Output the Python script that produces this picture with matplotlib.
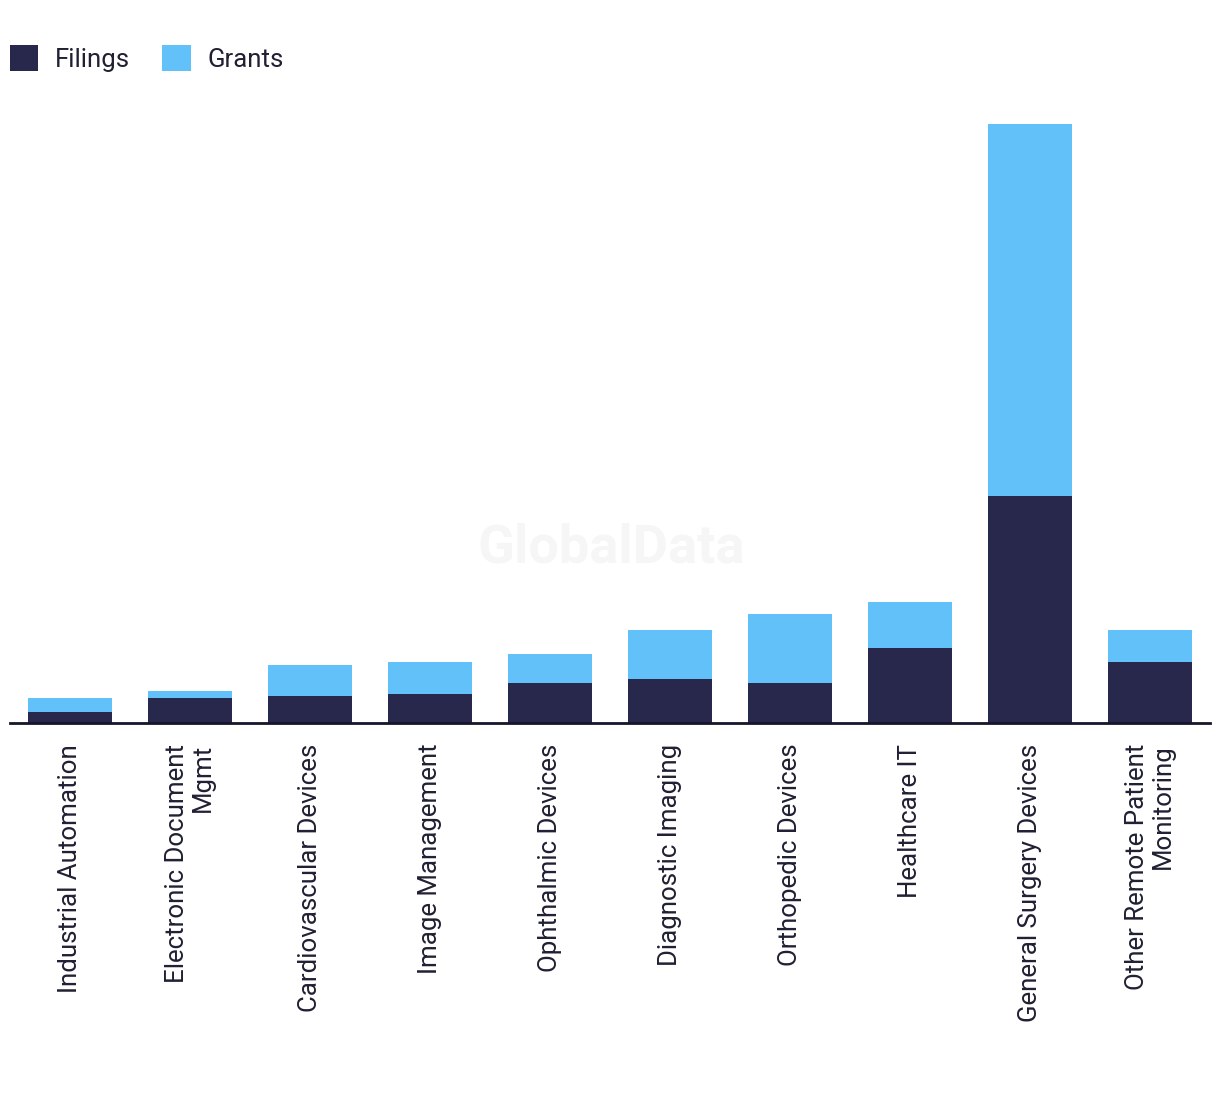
import matplotlib
matplotlib.use("Agg")
import matplotlib.pyplot as plt
from matplotlib.patches import Patch

categories = [
    "Industrial Automation",
    "Electronic Document\nMgmt",
    "Cardiovascular Devices",
    "Image Management",
    "Ophthalmic Devices",
    "Diagnostic Imaging",
    "Orthopedic Devices",
    "Healthcare IT",
    "General Surgery Devices",
    "Other Remote Patient\nMonitoring",
]
filings = [11, 25, 27, 29, 40, 44, 40, 75, 227, 61]
grants = [14, 7, 31, 32, 29, 49, 69, 46, 372, 32]

FILL_COLOR = "#27284C"
GRANT_COLOR = "#62C1F8"
TEXT_COLOR = "#1F2033"

plt.rcParams['font.family'] = ['Roboto', 'DejaVu Sans']

W, H = 1220, 1094
fig = plt.figure(figsize=(W / 100, H / 100), dpi=100)
ax_left, ax_right = 10, 1210
ax_bottom, ax_top = 723, 100
ax = fig.add_axes([ax_left / W, (H - ax_bottom) / H, (ax_right - ax_left) / W, (ax_bottom - ax_top) / H])

x = list(range(len(categories)))
ax.bar(x, filings, width=0.7, color=FILL_COLOR, label="Filings")
ax.bar(x, grants, bottom=filings, width=0.7, color=GRANT_COLOR, label="Grants")

ax.set_xlim(-0.5, len(categories) - 0.5)
ax.set_ylim(0, ax_bottom - ax_top)

for s in ["top", "right", "left"]:
    ax.spines[s].set_visible(False)
ax.spines["bottom"].set_color("#15152B")
ax.spines["bottom"].set_linewidth(2)
ax.set_yticks([])
ax.set_xticks(x)
ax.set_xticklabels(categories, rotation=90, fontsize=18.6, color=TEXT_COLOR,
                   ha="center", va="top", multialignment="right", linespacing=1.1)
ax.tick_params(axis="x", length=0, pad=15)

fig.text(611 / W, 1 - 548 / H, "GlobalData", fontsize=39, fontweight="bold",
         color="#F6F6F6", ha="center", va="center", zorder=0)

handles = [Patch(facecolor=FILL_COLOR, label="Filings"), Patch(facecolor=GRANT_COLOR, label="Grants")]
fig.legend(handles=handles, loc="upper left", bbox_to_anchor=(10 / W, 1 - 45 / H),
           ncol=2, frameon=False, fontsize=18.5, handlelength=1.1, handleheight=1.2,
           handletextpad=0.66, columnspacing=1.25, borderpad=0, borderaxespad=0,
           labelcolor=TEXT_COLOR)

fig.savefig("out.png", dpi=100, facecolor="white")
